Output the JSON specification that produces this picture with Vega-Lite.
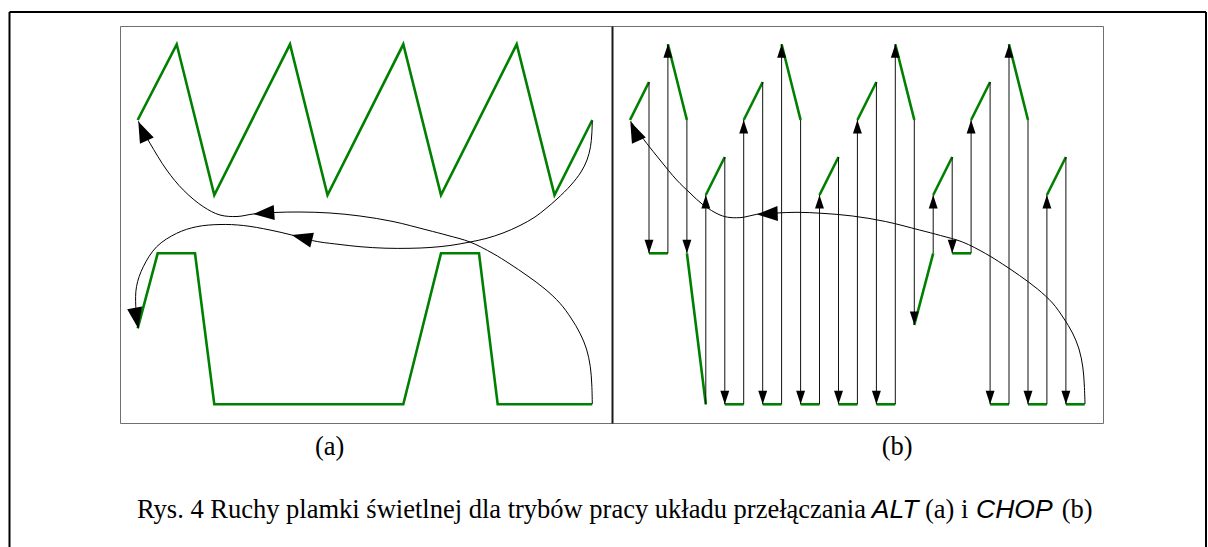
{
  "$schema": "https://vega.github.io/schema/vega-lite/v6.json",
  "width": 1208,
  "height": 547,
  "autosize": {"type": "none"},
  "padding": 0,
  "background": "white",
  "config": {"view": {"stroke": null}},
  "datasets": {
    "outer": [
      {"x": 9.5, "y": 12, "x2": 9.5, "y2": 547},
      {"x": 9.5, "y": 12, "x2": 1206, "y2": 12},
      {"x": 1206, "y": 12, "x2": 1206, "y2": 547}
    ],
    "box": [
      {"x": 120.5, "y": 26.5, "x2": 1103.5, "y2": 423.5}
    ],
    "divider": [
      {"x": 612.5, "y": 26.5, "x2": 612.5, "y2": 423.5}
    ],
    "green": [
      {"series": "a_up", "ord": 0, "x": 137.7, "y": 120},
      {"series": "a_up", "ord": 1, "x": 176.7, "y": 44.3},
      {"series": "a_up", "ord": 2, "x": 214.3, "y": 195},
      {"series": "a_up", "ord": 3, "x": 290, "y": 44.3},
      {"series": "a_up", "ord": 4, "x": 327.5, "y": 195},
      {"series": "a_up", "ord": 5, "x": 403.3, "y": 44.3},
      {"series": "a_up", "ord": 6, "x": 441, "y": 195},
      {"series": "a_up", "ord": 7, "x": 516.7, "y": 44.3},
      {"series": "a_up", "ord": 8, "x": 554.5, "y": 195},
      {"series": "a_up", "ord": 9, "x": 592.3, "y": 120},
      {"series": "a_low", "ord": 0, "x": 137.7, "y": 328.3},
      {"series": "a_low", "ord": 1, "x": 157.7, "y": 253.3},
      {"series": "a_low", "ord": 2, "x": 195, "y": 253.3},
      {"series": "a_low", "ord": 3, "x": 214.3, "y": 404.3},
      {"series": "a_low", "ord": 4, "x": 403.3, "y": 404.3},
      {"series": "a_low", "ord": 5, "x": 441, "y": 253.3},
      {"series": "a_low", "ord": 6, "x": 479, "y": 253.3},
      {"series": "a_low", "ord": 7, "x": 497.7, "y": 404.3},
      {"series": "a_low", "ord": 8, "x": 592.3, "y": 404.3},
      {"series": "u1", "ord": 0, "x": 630, "y": 120}, {"series": "u1", "ord": 1, "x": 649, "y": 82},
      {"series": "u2", "ord": 0, "x": 667.9, "y": 44.3}, {"series": "u2", "ord": 1, "x": 686.9, "y": 120},
      {"series": "u3", "ord": 0, "x": 705.8, "y": 195}, {"series": "u3", "ord": 1, "x": 724.8, "y": 157},
      {"series": "u4", "ord": 0, "x": 743.7, "y": 120}, {"series": "u4", "ord": 1, "x": 762.7, "y": 82},
      {"series": "u5", "ord": 0, "x": 781.6, "y": 44.3}, {"series": "u5", "ord": 1, "x": 800.6, "y": 120},
      {"series": "u6", "ord": 0, "x": 819.5, "y": 195}, {"series": "u6", "ord": 1, "x": 838.5, "y": 157},
      {"series": "u7", "ord": 0, "x": 857.4, "y": 120}, {"series": "u7", "ord": 1, "x": 876.4, "y": 82},
      {"series": "u8", "ord": 0, "x": 895.3, "y": 44.3}, {"series": "u8", "ord": 1, "x": 914.3, "y": 120},
      {"series": "u9", "ord": 0, "x": 933.2, "y": 195}, {"series": "u9", "ord": 1, "x": 952.2, "y": 157},
      {"series": "u10", "ord": 0, "x": 971.1, "y": 120}, {"series": "u10", "ord": 1, "x": 990.1, "y": 82},
      {"series": "u11", "ord": 0, "x": 1009, "y": 44.3}, {"series": "u11", "ord": 1, "x": 1028, "y": 120},
      {"series": "u12", "ord": 0, "x": 1046.9, "y": 195}, {"series": "u12", "ord": 1, "x": 1065.9, "y": 157},
      {"series": "l1", "ord": 0, "x": 649, "y": 253.3}, {"series": "l1", "ord": 1, "x": 667.9, "y": 253.3},
      {"series": "l2", "ord": 0, "x": 686.9, "y": 253.3}, {"series": "l2", "ord": 1, "x": 705.8, "y": 404.3},
      {"series": "l3", "ord": 0, "x": 724.8, "y": 404.3}, {"series": "l3", "ord": 1, "x": 743.7, "y": 404.3},
      {"series": "l4", "ord": 0, "x": 762.7, "y": 404.3}, {"series": "l4", "ord": 1, "x": 781.6, "y": 404.3},
      {"series": "l5", "ord": 0, "x": 800.6, "y": 404.3}, {"series": "l5", "ord": 1, "x": 819.5, "y": 404.3},
      {"series": "l6", "ord": 0, "x": 838.5, "y": 404.3}, {"series": "l6", "ord": 1, "x": 857.4, "y": 404.3},
      {"series": "l7", "ord": 0, "x": 876.4, "y": 404.3}, {"series": "l7", "ord": 1, "x": 895.3, "y": 404.3},
      {"series": "l8", "ord": 0, "x": 914.3, "y": 325}, {"series": "l8", "ord": 1, "x": 933.2, "y": 253.3},
      {"series": "l9", "ord": 0, "x": 952.2, "y": 253.3}, {"series": "l9", "ord": 1, "x": 971.1, "y": 253.3},
      {"series": "l10", "ord": 0, "x": 990.1, "y": 404.3}, {"series": "l10", "ord": 1, "x": 1009, "y": 404.3},
      {"series": "l11", "ord": 0, "x": 1028, "y": 404.3}, {"series": "l11", "ord": 1, "x": 1046.9, "y": 404.3},
      {"series": "l12", "ord": 0, "x": 1065.9, "y": 404.3}, {"series": "l12", "ord": 1, "x": 1084.8, "y": 404.3}
    ],
    "curves": [
      {"series": "a1", "ord": 0, "x": 592.3, "y": 404},
      {"series": "a1", "ord": 1, "x": 591.8, "y": 385},
      {"series": "a1", "ord": 2, "x": 590.3, "y": 366.7},
      {"series": "a1", "ord": 3, "x": 586.5, "y": 349},
      {"series": "a1", "ord": 4, "x": 580, "y": 333.3},
      {"series": "a1", "ord": 5, "x": 571, "y": 318},
      {"series": "a1", "ord": 6, "x": 560, "y": 303.3},
      {"series": "a1", "ord": 7, "x": 545, "y": 289},
      {"series": "a1", "ord": 8, "x": 527, "y": 275.5},
      {"series": "a1", "ord": 9, "x": 510, "y": 264},
      {"series": "a1", "ord": 10, "x": 493, "y": 253.5},
      {"series": "a1", "ord": 11, "x": 470, "y": 242},
      {"series": "a1", "ord": 12, "x": 448, "y": 235.5},
      {"series": "a1", "ord": 13, "x": 427, "y": 230},
      {"series": "a1", "ord": 14, "x": 393, "y": 221.5},
      {"series": "a1", "ord": 15, "x": 360, "y": 216},
      {"series": "a1", "ord": 16, "x": 330, "y": 213},
      {"series": "a1", "ord": 17, "x": 300, "y": 212},
      {"series": "a1", "ord": 18, "x": 274, "y": 212.5},
      {"series": "a1", "ord": 19, "x": 253.3, "y": 214},
      {"series": "a1", "ord": 20, "x": 237, "y": 216.5},
      {"series": "a1", "ord": 21, "x": 220, "y": 215},
      {"series": "a1", "ord": 22, "x": 203.3, "y": 206.7},
      {"series": "a1", "ord": 23, "x": 183.3, "y": 190},
      {"series": "a1", "ord": 24, "x": 166.7, "y": 170},
      {"series": "a1", "ord": 25, "x": 150, "y": 143.3},
      {"series": "a1", "ord": 26, "x": 141, "y": 127},
      {"series": "a1", "ord": 27, "x": 138.3, "y": 121},
      {"series": "a2", "ord": 0, "x": 592.3, "y": 121},
      {"series": "a2", "ord": 1, "x": 591.8, "y": 134},
      {"series": "a2", "ord": 2, "x": 590.5, "y": 146.7},
      {"series": "a2", "ord": 3, "x": 587, "y": 160},
      {"series": "a2", "ord": 4, "x": 581, "y": 172},
      {"series": "a2", "ord": 5, "x": 571, "y": 185},
      {"series": "a2", "ord": 6, "x": 557, "y": 199},
      {"series": "a2", "ord": 7, "x": 546, "y": 208.5},
      {"series": "a2", "ord": 8, "x": 535, "y": 217},
      {"series": "a2", "ord": 9, "x": 520, "y": 225.5},
      {"series": "a2", "ord": 10, "x": 503, "y": 233},
      {"series": "a2", "ord": 11, "x": 486, "y": 238.5},
      {"series": "a2", "ord": 12, "x": 470, "y": 242},
      {"series": "a2", "ord": 13, "x": 450, "y": 245.5},
      {"series": "a2", "ord": 14, "x": 430, "y": 247.5},
      {"series": "a2", "ord": 15, "x": 410, "y": 248.3},
      {"series": "a2", "ord": 16, "x": 385, "y": 248.2},
      {"series": "a2", "ord": 17, "x": 360, "y": 246.7},
      {"series": "a2", "ord": 18, "x": 340, "y": 244.5},
      {"series": "a2", "ord": 19, "x": 320, "y": 242},
      {"series": "a2", "ord": 20, "x": 310, "y": 240},
      {"series": "a2", "ord": 21, "x": 291.7, "y": 235},
      {"series": "a2", "ord": 22, "x": 270, "y": 230},
      {"series": "a2", "ord": 23, "x": 243.3, "y": 225.5},
      {"series": "a2", "ord": 24, "x": 220, "y": 224.5},
      {"series": "a2", "ord": 25, "x": 196.7, "y": 226.7},
      {"series": "a2", "ord": 26, "x": 176.7, "y": 233.3},
      {"series": "a2", "ord": 27, "x": 156.7, "y": 246.7},
      {"series": "a2", "ord": 28, "x": 143.3, "y": 266.7},
      {"series": "a2", "ord": 29, "x": 136.5, "y": 286.7},
      {"series": "a2", "ord": 30, "x": 135.8, "y": 306.7},
      {"series": "a2", "ord": 31, "x": 138.3, "y": 328},
      {"series": "b1", "ord": 0, "x": 1085, "y": 404},
      {"series": "b1", "ord": 1, "x": 1084.3, "y": 385},
      {"series": "b1", "ord": 2, "x": 1082.8, "y": 367},
      {"series": "b1", "ord": 3, "x": 1079, "y": 349},
      {"series": "b1", "ord": 4, "x": 1072.5, "y": 333},
      {"series": "b1", "ord": 5, "x": 1063.5, "y": 318},
      {"series": "b1", "ord": 6, "x": 1052.5, "y": 303},
      {"series": "b1", "ord": 7, "x": 1037.5, "y": 289},
      {"series": "b1", "ord": 8, "x": 1019.5, "y": 275.5},
      {"series": "b1", "ord": 9, "x": 1002.5, "y": 264},
      {"series": "b1", "ord": 10, "x": 985.5, "y": 253.5},
      {"series": "b1", "ord": 11, "x": 962.5, "y": 242},
      {"series": "b1", "ord": 12, "x": 940.5, "y": 235.5},
      {"series": "b1", "ord": 13, "x": 919.5, "y": 230},
      {"series": "b1", "ord": 14, "x": 885.5, "y": 221.5},
      {"series": "b1", "ord": 15, "x": 852.5, "y": 216},
      {"series": "b1", "ord": 16, "x": 822, "y": 213.3},
      {"series": "b1", "ord": 17, "x": 797, "y": 212.3},
      {"series": "b1", "ord": 18, "x": 777, "y": 213},
      {"series": "b1", "ord": 19, "x": 756.7, "y": 214.3},
      {"series": "b1", "ord": 20, "x": 743.3, "y": 217.3},
      {"series": "b1", "ord": 21, "x": 730, "y": 217.5},
      {"series": "b1", "ord": 22, "x": 720, "y": 215},
      {"series": "b1", "ord": 23, "x": 703.3, "y": 205},
      {"series": "b1", "ord": 24, "x": 690, "y": 193},
      {"series": "b1", "ord": 25, "x": 676.7, "y": 180},
      {"series": "b1", "ord": 26, "x": 660, "y": 160},
      {"series": "b1", "ord": 27, "x": 646.7, "y": 143.3},
      {"series": "b1", "ord": 28, "x": 636, "y": 129},
      {"series": "b1", "ord": 29, "x": 630.5, "y": 121}
    ],
    "chops": [
      {"x": 649, "y": 82, "y2": 253.3, "heading": 180},
      {"x": 667.9, "y": 253.3, "y2": 44.3, "heading": 0},
      {"x": 686.9, "y": 120, "y2": 253.3, "heading": 180},
      {"x": 705.8, "y": 404.3, "y2": 195, "heading": 0},
      {"x": 724.8, "y": 157, "y2": 404.3, "heading": 180},
      {"x": 743.7, "y": 404.3, "y2": 120, "heading": 0},
      {"x": 762.7, "y": 82, "y2": 404.3, "heading": 180},
      {"x": 781.6, "y": 404.3, "y2": 44.3, "heading": 0},
      {"x": 800.6, "y": 120, "y2": 404.3, "heading": 180},
      {"x": 819.5, "y": 404.3, "y2": 195, "heading": 0},
      {"x": 838.5, "y": 157, "y2": 404.3, "heading": 180},
      {"x": 857.4, "y": 404.3, "y2": 120, "heading": 0},
      {"x": 876.4, "y": 82, "y2": 404.3, "heading": 180},
      {"x": 895.3, "y": 404.3, "y2": 44.3, "heading": 0},
      {"x": 914.3, "y": 120, "y2": 325, "heading": 180},
      {"x": 933.2, "y": 253.3, "y2": 195, "heading": 0},
      {"x": 952.2, "y": 157, "y2": 253.3, "heading": 180},
      {"x": 971.1, "y": 253.3, "y2": 120, "heading": 0},
      {"x": 990.1, "y": 82, "y2": 404.3, "heading": 180},
      {"x": 1009, "y": 404.3, "y2": 44.3, "heading": 0},
      {"x": 1028, "y": 120, "y2": 404.3, "heading": 180},
      {"x": 1046.9, "y": 404.3, "y2": 195, "heading": 0},
      {"x": 1065.9, "y": 157, "y2": 404.3, "heading": 180}
    ],
    "bigArrows": [
      {"x": 253.3, "y": 214, "heading": 266},
      {"x": 291.7, "y": 235, "heading": 284},
      {"x": 138.3, "y": 121.5, "heading": 336},
      {"x": 138.3, "y": 328.5, "heading": 170},
      {"x": 756.7, "y": 214.3, "heading": 268},
      {"x": 630.3, "y": 121.5, "heading": 336}
    ],
    "serifText": [
      {"x": 315, "y": 455, "label": "(a)"},
      {"x": 881.7, "y": 455, "label": "(b)"},
      {"x": 137, "y": 518, "label": "Rys. 4 Ruchy plamki świetlnej dla trybów pracy układu przełączania"},
      {"x": 925, "y": 518, "label": "(a) i"},
      {"x": 1061.7, "y": 518, "label": "(b)"}
    ],
    "sansText": [
      {"x": 871.7, "y": 518, "label": "ALT"},
      {"x": 976, "y": 518, "label": "CHOP"}
    ]
  },
  "encoding": {
    "x": {"field": "x", "type": "quantitative", "scale": {"domain": [0, 1208], "nice": false, "zero": false}, "axis": null},
    "y": {"field": "y", "type": "quantitative", "scale": {"domain": [0, 547], "nice": false, "zero": false, "reverse": true}, "axis": null}
  },
  "layer": [
    {
      "data": {"name": "outer"},
      "mark": {"type": "rule", "color": "black", "strokeWidth": 2},
      "encoding": {"x2": {"field": "x2"}, "y2": {"field": "y2"}}
    },
    {
      "data": {"name": "box"},
      "mark": {"type": "rect", "fillOpacity": 0, "stroke": "#707070", "strokeWidth": 1},
      "encoding": {"x2": {"field": "x2"}, "y2": {"field": "y2"}}
    },
    {
      "data": {"name": "divider"},
      "mark": {"type": "rule", "color": "#1a1a1a", "strokeWidth": 2},
      "encoding": {"x2": {"field": "x2"}, "y2": {"field": "y2"}}
    },
    {
      "data": {"name": "green"},
      "mark": {"type": "line", "color": "#008000", "strokeWidth": 2.6},
      "encoding": {"detail": {"field": "series"}, "order": {"field": "ord", "type": "quantitative"}}
    },
    {
      "data": {"name": "curves"},
      "mark": {"type": "line", "color": "black", "strokeWidth": 1, "interpolate": "catmull-rom"},
      "encoding": {"detail": {"field": "series"}, "order": {"field": "ord", "type": "quantitative"}}
    },
    {
      "data": {"name": "chops"},
      "mark": {"type": "rule", "color": "#111111", "strokeWidth": 1},
      "encoding": {"y2": {"field": "y2"}}
    },
    {
      "data": {"name": "chops"},
      "mark": {"type": "point", "filled": true, "shape": "M0,0L-0.33,1L0.33,1Z", "size": 729, "color": "black", "opacity": 1, "strokeWidth": 0},
      "encoding": {
        "y": {"field": "y2", "type": "quantitative", "scale": {"domain": [0, 547], "nice": false, "zero": false, "reverse": true}, "axis": null},
        "angle": {"field": "heading", "type": "quantitative", "scale": null}
      }
    },
    {
      "data": {"name": "bigArrows"},
      "mark": {"type": "point", "filled": true, "shape": "M0,0L-0.36,1L0.36,1Z", "size": 1764, "color": "black", "opacity": 1, "strokeWidth": 0},
      "encoding": {"angle": {"field": "heading", "type": "quantitative", "scale": null}}
    },
    {
      "data": {"name": "serifText"},
      "mark": {"type": "text", "font": "Liberation Serif", "fontSize": 26.5, "align": "left", "baseline": "alphabetic", "color": "black"},
      "encoding": {"text": {"field": "label"}}
    },
    {
      "data": {"name": "sansText"},
      "mark": {"type": "text", "font": "Liberation Sans", "fontStyle": "italic", "fontSize": 26.5, "align": "left", "baseline": "alphabetic", "color": "black"},
      "encoding": {"text": {"field": "label"}}
    }
  ]
}
